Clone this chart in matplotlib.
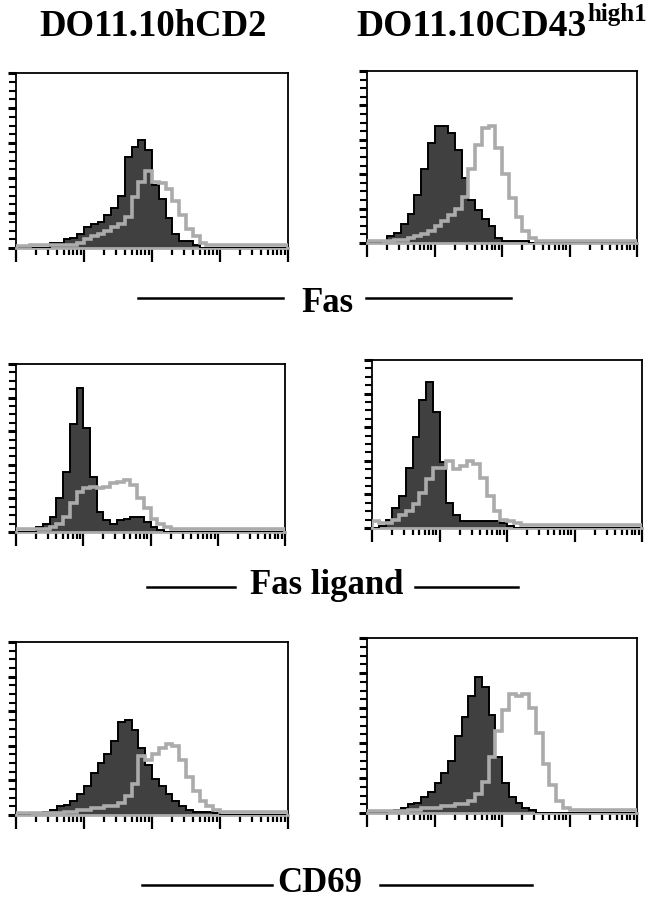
import numpy as np
import matplotlib
matplotlib.use("Agg")
import matplotlib.pyplot as plt
from matplotlib.ticker import LogLocator, MultipleLocator, NullFormatter
from matplotlib.lines import Line2D

# ---------------- data (histogram counts, % of max scale; 40 bins of 0.1 decade, 10^0..10^4) ----
column_titles = ["DO11.10hCD2", "DO11.10CD43"]
column_title_sup = "high1"
row_labels = ["Fas", "Fas ligand", "CD69"]

fas_hcd2_dark = [0, 0, 0, 0, 0, 3, 3, 5, 6, 8, 12, 14, 15, 19, 23, 30, 52, 58, 62, 56,
                 36, 28, 17, 8, 4, 4, 2, 0, 0, 0, 0, 0, 0, 0, 0, 0, 0, 0, 0, 0]
fas_hcd2_grey = [1, 1, 2, 2, 2, 2, 2, 2, 2, 3, 5, 7, 8, 10, 12, 14, 18, 29, 38, 44,
                 38, 37, 34, 27, 19, 11, 7, 3, 2, 2, 2, 2, 2, 2, 2, 2, 2, 2, 2, 2]
fas_cd43_dark = [0, 0, 1, 4, 6, 11, 17, 28, 43, 58, 68, 68, 64, 54, 38, 25, 19, 14, 10, 3,
                 1, 1, 1, 1, 0, 0, 0, 0, 0, 0, 0, 0, 0, 0, 0, 0, 0, 0, 0, 0]
fas_cd43_grey = [1, 1, 1, 1, 2, 2, 3, 4, 5, 7, 10, 13, 16, 20, 27, 43, 57, 67, 68, 55,
                 40, 26, 15, 7, 3, 1, 1, 1, 1, 1, 1, 1, 1, 1, 1, 1, 1, 1, 1, 1]

fasl_hcd2_dark = [0, 0, 0, 3, 5, 9, 20, 36, 64, 86, 62, 33, 12, 7, 5, 7, 8, 9, 9, 6,
                  3, 1, 0, 0, 0, 0, 0, 0, 0, 0, 0, 0, 0, 0, 0, 0, 0, 0, 0, 0]
fasl_hcd2_grey = [2, 2, 2, 2, 2, 3, 5, 9, 17, 24, 26, 27, 26, 27, 29, 30, 31, 28, 20, 14,
                  8, 5, 3, 2, 2, 2, 2, 2, 2, 2, 2, 2, 2, 2, 2, 2, 2, 2, 2, 2]
fasl_cd43_dark = [0, 1, 5, 12, 19, 36, 54, 76, 87, 69, 39, 15, 8, 4, 4, 4, 4, 4, 4, 3,
                  1, 0, 0, 0, 0, 0, 0, 0, 0, 0, 0, 0, 0, 0, 0, 0, 0, 0, 0, 0]
fasl_cd43_grey = [4, 3, 3, 5, 8, 10, 14, 21, 29, 36, 36, 40, 35, 37, 40, 38, 30, 19, 10, 5,
                  4, 3, 2, 2, 2, 2, 2, 2, 2, 2, 2, 2, 2, 2, 2, 2, 2, 2, 2, 2]

cd69_hcd2_dark = [0, 0, 1, 1, 2, 3, 5, 6, 8, 12, 17, 24, 30, 35, 43, 54, 55, 49, 39, 29,
                  21, 17, 12, 8, 5, 3, 2, 2, 2, 1, 0, 0, 0, 0, 0, 0, 0, 0, 0, 0]
cd69_hcd2_grey = [1, 1, 1, 1, 1, 1, 1, 2, 2, 3, 3, 4, 4, 5, 5, 7, 11, 18, 34, 32,
                  35, 39, 41, 40, 32, 22, 14, 8, 5, 3, 2, 2, 2, 2, 2, 2, 2, 2, 2, 2]
cd69_cd43_dark = [0, 0, 0, 1, 2, 3, 5, 6, 9, 12, 17, 23, 30, 44, 55, 67, 78, 72, 56, 32,
                  17, 9, 6, 3, 2, 0, 0, 0, 0, 0, 0, 0, 0, 0, 0, 0, 0, 0, 0, 0]
cd69_cd43_grey = [1, 1, 1, 1, 1, 1, 2, 2, 3, 3, 3, 4, 4, 5, 5, 7, 11, 18, 32, 47,
                  59, 68, 67, 68, 60, 46, 28, 16, 7, 3, 2, 2, 2, 2, 2, 2, 2, 2, 2, 2]

panels = [
    (fas_hcd2_dark, fas_hcd2_grey), (fas_cd43_dark, fas_cd43_grey),
    (fasl_hcd2_dark, fasl_hcd2_grey), (fasl_cd43_dark, fasl_cd43_grey),
    (cd69_hcd2_dark, cd69_hcd2_grey), (cd69_cd43_dark, cd69_cd43_grey),
]

# ---------------- layout (pixel boxes: left, top, right, bottom) ----------------
W, H = 660, 900
boxes = [
    (16, 73, 288, 248), (367, 71, 637, 243),
    (16, 364, 285, 532), (372, 360, 642, 528),
    (16, 642, 288, 815), (367, 638, 637, 813),
]

DARK_FILL = "#404040"
GREY = "#ababab"
SERIF = ["Liberation Serif", "DejaVu Serif"]

fig = plt.figure(figsize=(W / 100, H / 100), dpi=100)
fig.patch.set_facecolor("white")

edges = 10 ** np.linspace(0, 4, 41)

for (dark, grey), (l, t, r, b) in zip(panels, boxes):
    ax = fig.add_axes([l / W, 1 - b / H, (r - l) / W, (b - t) / H])
    ax.set_xscale("log")
    ax.set_xlim(1, 1e4)
    ax.set_ylim(0, 100)
    ax.stairs(dark, edges, fill=True, facecolor=DARK_FILL, edgecolor="none", zorder=2)
    ax.stairs(dark, edges, fill=False, color="black", lw=1.4, zorder=3)
    ax.stairs(grey, edges, fill=False, color=GREY, lw=2.6, zorder=4)

    ax.xaxis.set_major_locator(LogLocator(base=10, numticks=10))
    ax.xaxis.set_minor_locator(LogLocator(base=10, subs=np.arange(2, 10), numticks=20))
    ax.xaxis.set_major_formatter(NullFormatter())
    ax.xaxis.set_minor_formatter(NullFormatter())
    ax.yaxis.set_major_locator(MultipleLocator(20))
    ax.yaxis.set_minor_locator(MultipleLocator(5))
    ax.yaxis.set_major_formatter(NullFormatter())
    ax.tick_params(axis="x", which="major", direction="out", length=10, width=1.6,
                   color="black", bottom=True, top=False)
    ax.tick_params(axis="x", which="minor", direction="out", length=5, width=1.6,
                   color="black", bottom=True, top=False)
    ax.tick_params(axis="y", which="major", direction="out", length=6, width=2.2,
                   color="black", left=True, right=False)
    ax.tick_params(axis="y", which="minor", direction="out", length=5, width=1.5,
                   color="black", left=True, right=False)
    for side in ("top", "right", "left"):
        ax.spines[side].set_color("black")
        ax.spines[side].set_linewidth(1.3)
    ax.spines["bottom"].set_color(GREY)
    ax.spines["bottom"].set_linewidth(2.0)
    ax.set_facecolor("white")

# ---------------- column titles ----------------
fig.text(153 / W, 1 - 27 / H, column_titles[0], ha="center", va="center",
         fontsize=26.5, fontweight="bold", family=SERIF)
t2 = fig.text(356 / W, 1 - 27 / H, column_titles[1], ha="left", va="center",
              fontsize=27, fontweight="bold", family=SERIF)
fig.canvas.draw()
bb = t2.get_window_extent(renderer=fig.canvas.get_renderer())
fig.text(bb.x1 / W + 1 / W, 1 - 15 / H, column_title_sup, ha="left", va="center",
         fontsize=18, fontweight="bold", family=SERIF)

# ---------------- row labels with rules ----------------
row_label_specs = [
    # (label, text center x, y center, left line x0,x1, right line x0,x1, line y)
    (row_labels[0], 327, 303, (138, 283), (366, 511), 298),
    (row_labels[1], 327, 585, (147, 235), (415, 518), 587),
    (row_labels[2], 320, 884, (142, 272), (380, 532), 885),
]
for label, cx, cy, (a0, a1), (b0, b1), ly in row_label_specs:
    fig.text(cx / W, 1 - cy / H, label, ha="center", va="center",
             fontsize=25, fontweight="bold", family=SERIF)
    for x0, x1 in ((a0, a1), (b0, b1)):
        fig.add_artist(Line2D([x0 / W, x1 / W], [1 - ly / H, 1 - ly / H],
                              transform=fig.transFigure, color="black", lw=1.8))

fig.savefig("out.png", dpi=100, facecolor="white")
